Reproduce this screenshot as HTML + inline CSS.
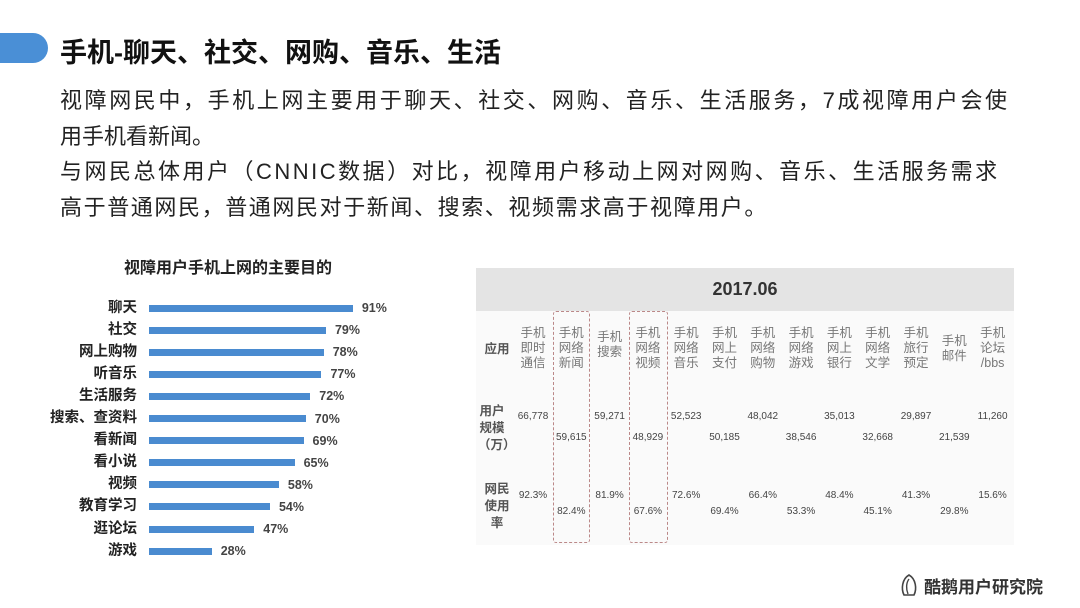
<!DOCTYPE html>
<html><head><meta charset="utf-8">
<style>
*{margin:0;padding:0;box-sizing:border-box}
body{width:1080px;height:608px;background:#fff;position:relative;overflow:hidden;font-family:"Liberation Sans","Noto Sans CJK SC",sans-serif;color:#222}
.abs{position:absolute}
.tab{left:-20px;top:33px;width:68px;height:30px;border-radius:15px;background:#4a8fd6}
.title{left:60px;top:31px;font-size:27px;font-weight:bold;color:#111;white-space:nowrap}
.body{left:60px;top:83px;font-size:22px;line-height:35.5px;color:#222;white-space:nowrap}
.body span{display:block}
.ctitle{left:124px;top:254px;font-size:16px;font-weight:bold;color:#222}
.lbl{position:absolute;right:943px;font-size:14.5px;font-weight:bold;color:#222;white-space:nowrap;text-align:right;line-height:15px}
.bar{position:absolute;left:149px;height:7px;background:#4a8bd0}
.val{position:absolute;font-size:12.5px;font-weight:bold;color:#444;line-height:14px}
.tbl{left:476px;top:268px;width:538px;height:277px;background:#fafafa}
.thead{left:476px;top:268px;width:538px;height:43px;background:#e4e4e4;text-align:center;font-size:18px;font-weight:bold;line-height:43px;color:#333}
.cell{position:absolute;font-size:10px;color:#444;text-align:center;width:40px;white-space:nowrap}
.hd{position:absolute;font-size:12.5px;color:#777;text-align:center;width:40px;line-height:15px}
.rl{position:absolute;font-size:12.5px;font-weight:bold;color:#555;text-align:center;width:28px;line-height:17px}
.box{position:absolute;border:1px dashed #b88;border-radius:3px}
</style></head><body>
<div class="abs tab"></div>
<div class="abs title">手机-聊天、社交、网购、音乐、生活</div>
<div class="abs body">
<span style="letter-spacing:2.6px">视障网民中，手机上网主要用于聊天、社交、网购、音乐、生活服务，7成视障用户会使</span>
<span>用手机看新闻。</span>
<span style="letter-spacing:2.5px">与网民总体用户（CNNIC数据）对比，视障用户移动上网对网购、音乐、生活服务需求</span>
<span style="letter-spacing:1.6px">高于普通网民，普通网民对于新闻、搜索、视频需求高于视障用户。</span>
</div>
<div class="abs ctitle">视障用户手机上网的主要目的</div>
<div id="chart"></div>

<div class="abs tbl"></div>
<div class="abs thead">2017.06</div>
<div id="table"></div>

<div class="abs" style="left:898px;top:573px;width:22px;height:24px">
<svg width="22" height="24" viewBox="0 0 22 24"><path d="M11 2 C4 6 3 16 6 22 L16 22 C19 16 18 6 11 2Z" fill="none" stroke="#444" stroke-width="1.6"/><path d="M11 6 C8 10 8 16 10 21" fill="none" stroke="#444" stroke-width="1.4"/></svg></div>
<div class="abs" style="left:924px;top:573px;font-size:17px;font-weight:bold;color:#333">酷鹅用户研究院</div>

<script>
const categories=["聊天","社交","网上购物","听音乐","生活服务","搜索、查资料","看新闻","看小说","视频","教育学习","逛论坛","游戏"];
const values=[91,79,78,77,72,70,69,65,58,54,47,28];
const x0=149, xScale=v=>v*2.24, y0=308, step=22.1;
const chart=document.getElementById('chart');
categories.forEach((c,i)=>{
  const y=y0+i*step;
  const l=document.createElement('div');l.className='lbl';l.style.top=(y-7.5)+'px';l.textContent=c;
  
  
  chart.appendChild(l);
  const b=document.createElement('div');b.className='bar';b.style.top=(y-3.5)+'px';b.style.width=xScale(values[i])+'px';
  
  
  chart.appendChild(b);
  const v=document.createElement('div');v.className='val';v.style.top=(y-7)+'px';v.style.left=(x0+xScale(values[i])+9)+'px';v.textContent=values[i]+'%';
  
  
  chart.appendChild(v);
});

const apps=[["手机","即时","通信"],["手机","网络","新闻"],["手机","搜索"],["手机","网络","视频"],["手机","网络","音乐"],["手机","网上","支付"],["手机","网络","购物"],["手机","网络","游戏"],["手机","网上","银行"],["手机","网络","文学"],["手机","旅行","预定"],["手机","邮件"],["手机","论坛","/bbs"]];
const users=["66,778","59,615","59,271","48,929","52,523","50,185","48,042","38,546","35,013","32,668","29,897","21,539","11,260"];
const rates=["92.3%","82.4%","81.9%","67.6%","72.6%","69.4%","66.4%","53.3%","48.4%","45.1%","41.3%","29.8%","15.6%"];
const tb=document.getElementById('table');
const cx=i=>533+i*38.3;
function add(cls,txt,x,y,name){const d=document.createElement('div');d.className=cls;d.style.left=x+'px';d.style.top=y+'px';d.innerHTML=txt;
 
 
 tb.appendChild(d);return d;}
[[553,590],[629,668]].forEach(b=>{const d=document.createElement('div');d.className='box';d.style.left=b[0]+'px';d.style.width=(b[1]-b[0])+'px';d.style.top='311px';d.style.height='232px';
 
 
 tb.appendChild(d);});
add('rl','应用',483,341,'row-label-app');
add('rl','用户<br>规模<br>（万）',478,403,'row-label-users');
add('rl','网民<br>使用<br>率',483,481,'row-label-rate');
apps.forEach((a,i)=>{
  add('hd',a.join('<br>'),cx(i)-20,i===11?334:(a.length===3?326:330),'app-header');
  const lower=i%2===1;
  add('cell',users[i],cx(i)-20,lower?432:411,'user-count');
  add('cell',rates[i],cx(i)-20,lower?506:490,'usage-rate');
});
</script>
</body></html>
